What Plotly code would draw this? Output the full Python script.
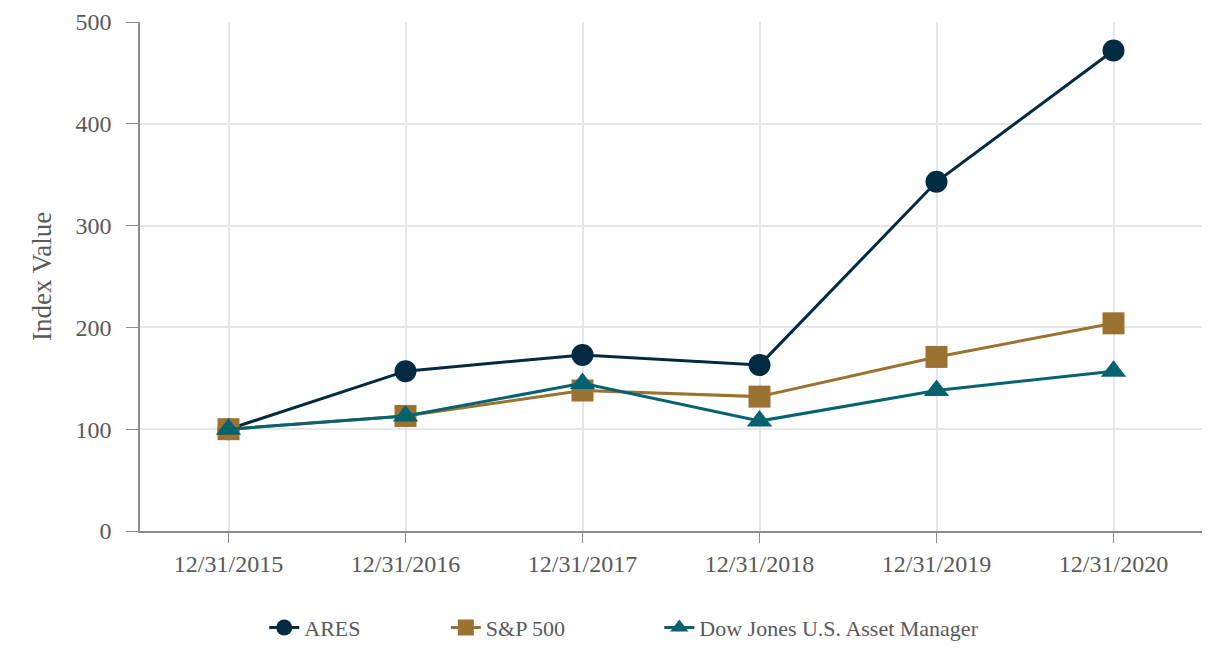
import plotly.graph_objects as go

dates = ["12/31/2015", "12/31/2016", "12/31/2017", "12/31/2018", "12/31/2019", "12/31/2020"]
ares = [100, 157, 173, 163, 343, 472]
sp500 = [100, 113, 138, 132, 171, 204]
dj_am = [100, 113, 145, 108, 138, 157]

series = [
    ("ARES", ares, "#022b42", "circle"),
    ("S&P 500", sp500, "#9b7230", "square"),
    ("Dow Jones U.S. Asset Manager", dj_am, "#05636f", "triangle-up"),
]
legend_ids = ["legend", "legend2", "legend3"]
legend_x = [0.117, 0.288, 0.489]

fig = go.Figure()
for (name, vals, color, sym), lid in zip(series, legend_ids):
    fig.add_trace(go.Scatter(
        x=dates, y=vals, name=name, mode="lines+markers",
        legend=lid,
        line=dict(color=color, width=3),
        marker=dict(symbol=sym, size=22, color=color),
    ))

font_family = "Liberation Serif, Times New Roman, serif"
legend_style = dict(orientation="h", xanchor="left", y=-0.19, yanchor="middle",
                    font=dict(size=22, color="#595959"), bgcolor="rgba(0,0,0,0)")
fig.update_layout(
    width=1224, height=666,
    paper_bgcolor="white", plot_bgcolor="white",
    margin=dict(l=132, r=30, t=14, b=143, autoexpand=False),
    font=dict(family=font_family, size=24, color="#595959"),
    showlegend=True,
)
for lid, lx in zip(legend_ids, legend_x):
    fig.update_layout({lid: dict(x=lx, **legend_style)})

fig.update_xaxes(
    type="category", range=[-0.5, 5.5],
    showgrid=True, gridcolor="#e6e6e6", gridwidth=1.5,
    showline=True, linecolor="#8c8c8c", linewidth=1.5,
    ticks="outside", ticklen=10, tickcolor="#8c8c8c",
    tickfont=dict(size=24, color="#595959"),
    automargin=False,
)
fig.update_yaxes(
    range=[0, 500], dtick=100,
    showgrid=True, gridcolor="#e6e6e6", gridwidth=1.5,
    showline=True, linecolor="#8c8c8c", linewidth=1.5,
    ticks="outside", ticklen=12, tickcolor="#8c8c8c",
    tickfont=dict(size=24, color="#595959"),
    ticklabeloverflow="allow", ticklabelstandoff=10,
    title=dict(text="Index Value", font=dict(size=27, color="#595959"), standoff=16),
    zeroline=False, automargin=False,
)
fig.write_html("out.html")
